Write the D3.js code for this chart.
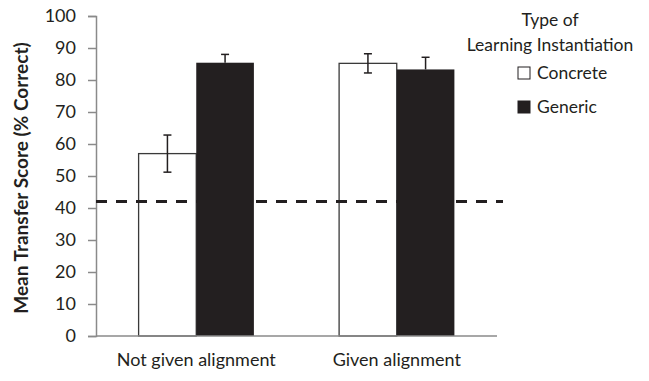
<!DOCTYPE html>
<html><head><meta charset="utf-8">
<script src="https://cdn.jsdelivr.net/npm/d3@7"></script>
<style>body{margin:0;background:#fff}svg{display:block}text{font-family:Lato,"Open Sans",sans-serif;fill:#231f20}</style>
</head><body>
<svg id="c" width="649" height="381"></svg>
<script>
const categories = ["Not given alignment", "Given alignment"];
const series = ["Concrete", "Generic"];
const concreteValues = [57, 85.2];
const genericValues = [85.4, 83.3];
const concreteErrors = [5.8, 3];
const genericErrors = [2.6, 3.8];
const chanceLevel = 42;
const yTicks = [0,10,20,30,40,50,60,70,80,90,100];

const svg = d3.select("#c");
const m = {left:96, right:497, top:16, bottom:336};
const x0 = d3.scaleBand().domain(categories).range([m.left, m.right]).paddingInner(0.425).paddingOuter(0.2125);
const x1 = d3.scaleBand().domain(series).range([0, x0.bandwidth()]);
const y = d3.scaleLinear().domain([0,100]).range([m.bottom, m.top]);
const fills = {Concrete:"#ffffff", Generic:"#231f20"};

const data = categories.map((c,i)=>({cat:c, vals:[
  {s:"Concrete", v:concreteValues[i], e:concreteErrors[i]},
  {s:"Generic", v:genericValues[i], e:genericErrors[i]}]}));

// y axis
const yAxis = d3.axisLeft(y).tickValues(yTicks).tickSize(8).tickPadding(12);
const ga = svg.append("g").attr("transform",`translate(${m.left},0)`).call(yAxis);
ga.select(".domain").attr("stroke","#8a8a8a").attr("stroke-width",1.5);
ga.selectAll(".tick line").attr("stroke","#8a8a8a").attr("stroke-width",1.5);
ga.selectAll(".tick text").style("font-size","18px").attr("fill","#231f20").style("font-family","Lato");

// bars
const g = svg.append("g");
data.forEach(d=>{
  d.vals.forEach(b=>{
    const bx = x0(d.cat)+x1(b.s);
    g.append("rect").attr("x",bx).attr("y",y(b.v)).attr("width",x1.bandwidth()).attr("height",y(0)-y(b.v))
      .attr("fill",fills[b.s]).attr("stroke", b.s==="Concrete"?"#3a3a3a":"none").attr("stroke-width",1.3);
  });
});
// error bars
data.forEach(d=>{
  d.vals.forEach(b=>{
    const cx = x0(d.cat)+x1(b.s)+x1.bandwidth()/2;
    const lo = b.s==="Generic" ? b.v : b.v-b.e;
    svg.append("line").attr("x1",cx).attr("x2",cx).attr("y1",y(b.v+b.e)).attr("y2",y(lo)).attr("stroke","#231f20").attr("stroke-width",1.5);
    svg.append("line").attr("x1",cx-4).attr("x2",cx+4).attr("y1",y(b.v+b.e)).attr("y2",y(b.v+b.e)).attr("stroke","#231f20").attr("stroke-width",1.5);
    if(b.s==="Concrete") svg.append("line").attr("x1",cx-4).attr("x2",cx+4).attr("y1",y(b.v-b.e)).attr("y2",y(b.v-b.e)).attr("stroke","#231f20").attr("stroke-width",1.5);
  });
});
// x axis baseline
svg.append("line").attr("x1",m.left).attr("x2",m.right).attr("y1",y(0)).attr("y2",y(0)).attr("stroke","#8a8a8a").attr("stroke-width",1.5);

// dashed chance line
svg.append("line").attr("x1",m.left).attr("x2",503).attr("y1",y(chanceLevel)).attr("y2",y(chanceLevel))
  .attr("stroke","#231f20").attr("stroke-width",3).attr("stroke-dasharray","11,9");

// category labels
categories.forEach(c=>{
  svg.append("text").attr("x",x0(c)+x0.bandwidth()/2).attr("y",366).attr("text-anchor","middle").style("font-size","18px").text(c);
});

// y label
svg.append("text").attr("transform","translate(28,178) rotate(-90)").attr("text-anchor","middle")
  .style("font-size","19px").style("font-weight","bold").text("Mean Transfer Score (% Correct)");

// legend
svg.append("text").attr("x",550).attr("y",26).attr("text-anchor","middle").style("font-size","17.5px").text("Type of");
svg.append("text").attr("x",550).attr("y",51).attr("text-anchor","middle").style("font-size","17.5px").text("Learning Instantiation");
series.forEach((s,i)=>{
  const yy = 73 + i*34;
  svg.append("rect").attr("x",518).attr("y",yy-6).attr("width",12).attr("height",12).attr("fill",fills[s]).attr("stroke","#231f20").attr("stroke-width",1);
  svg.append("text").attr("x",537).attr("y",yy+6).style("font-size","17.5px").text(s);
});
</script>
</body></html>
